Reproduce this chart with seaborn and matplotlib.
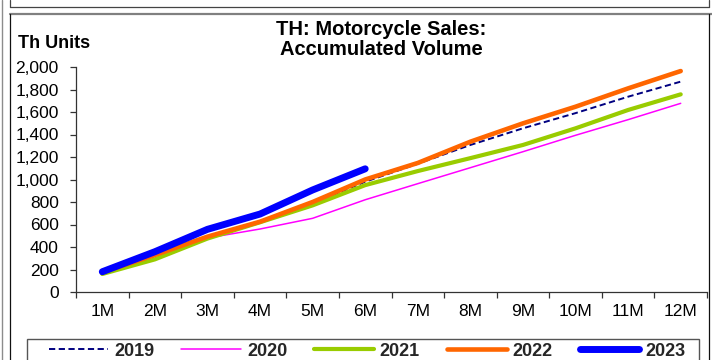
import matplotlib
matplotlib.use("Agg")
import matplotlib.pyplot as plt
from matplotlib.lines import Line2D
from matplotlib.patches import Rectangle
from matplotlib.ticker import FuncFormatter, FixedLocator
import seaborn as sns
import pandas as pd

# Accumulated motorcycle sales (thousand units) by month
months = ["1M", "2M", "3M", "4M", "5M", "6M", "7M", "8M", "9M", "10M", "11M", "12M"]
sales_2019 = [170, 320, 490, 630, 790, 980, 1140, 1307, 1455, 1590, 1736, 1870]
sales_2020 = [165, 290, 480, 560, 655, 820, 963, 1105, 1247, 1393, 1532, 1677]
sales_2021 = [160, 290, 475, 620, 770, 950, 1075, 1190, 1307, 1455, 1618, 1757]
sales_2022 = [175, 329, 492, 625, 800, 1000, 1147, 1336, 1499, 1647, 1810, 1964]
sales_2023 = [180, 358, 557, 693, 907, 1095]

years = ["2019", "2020", "2021", "2022", "2023"]
series = [sales_2019, sales_2020, sales_2021, sales_2022, sales_2023]
colors = ["#000080", "#FF00FF", "#99CC00", "#FF6600", "#0000FF"]
widths = [1.4, 1.1, 3.0, 3.3, 5.0]
styles = [(0, (3.2, 1.8)), "-", "-", "-", "-"]

rows = []
for yr, vals in zip(years, series):
    for i, v in enumerate(vals):
        rows.append({"year": yr, "pos": i, "month": months[i], "value": v})
df = pd.DataFrame(rows)

sns.set_theme(style="white")
plt.rcParams["font.family"] = ["Liberation Sans", "DejaVu Sans"]

W, H = 712, 360
fig = plt.figure(figsize=(W / 100, H / 100), dpi=100)


def fx(px):
    return px / W


def fy(py):
    return 1 - py / H


ax = fig.add_axes([fx(76), fy(292), fx(707) - fx(76), fy(67) - fy(292)])

for yr, c, lw, ls in zip(years, colors, widths, styles):
    sub = df[df["year"] == yr]
    sns.lineplot(data=sub, x="pos", y="value", ax=ax, color=c, linewidth=lw,
                 linestyle=ls, legend=False, solid_capstyle="round",
                 dash_capstyle="butt", estimator=None, sort=False)

ax.set_xlim(-0.5, len(months) - 0.5)
ax.set_ylim(0, 2000)
ax.set_xlabel("")
ax.set_ylabel("")

# category labels centred, tick marks on category boundaries
ax.xaxis.set_major_locator(FixedLocator(range(len(months))))
ax.set_xticklabels(months)
ax.xaxis.set_minor_locator(FixedLocator([i - 0.5 for i in range(len(months) + 1)]))
ax.tick_params(axis="x", which="major", length=0, pad=9, labelsize=12.5, colors="black")
ax.tick_params(axis="x", which="minor", length=4, width=0.9, color="#333333", bottom=True)

ax.set_yticks(range(0, 2001, 200))
ax.yaxis.set_major_formatter(FuncFormatter(lambda v, p: f"{int(v):,}"))
ax.tick_params(axis="y", which="major", length=4.5, width=0.9, color="#333333",
               pad=8, labelsize=12.5, left=True, labelcolor="black")

for s in ["top", "right"]:
    ax.spines[s].set_visible(False)
for s in ["left", "bottom"]:
    ax.spines[s].set_color("#333333")
    ax.spines[s].set_linewidth(0.9)
ax.set_facecolor("white")
ax.grid(False)

# titles
fig.text(fx(381), fy(20), "TH: Motorcycle Sales:\nAccumulated Volume", ha="center",
         va="top", fontsize=14.5, fontweight="bold", linespacing=1.06, color="black")
fig.text(fx(18), fy(43), "Th Units", ha="left", va="center", fontsize=13,
         fontweight="bold", color="black")

# legend
handles = [Line2D([0], [0], color=c, lw=lw, linestyle=ls, solid_capstyle="round")
           for c, lw, ls in zip(colors, widths, styles)]
fig.legend(handles, years, loc="center", bbox_to_anchor=(fx(367), fy(351)), ncol=5,
           frameon=False, prop={"weight": "bold", "size": 13}, handlelength=3.3,
           handletextpad=0.33, columnspacing=1.5, borderpad=0)
fig.patches.append(Rectangle((fx(27), fy(366)), fx(699) - fx(27), fy(339) - fy(366),
                             transform=fig.transFigure, fill=False, edgecolor="#555555",
                             lw=1.0, clip_on=False))

# panel frames
def fline(x0, y0, x1, y1, color, lw):
    fig.add_artist(Line2D([fx(x0), fx(x1)], [fy(y0), fy(y1)], transform=fig.transFigure,
                          color=color, lw=lw))

fline(2, 0, 2, 360, "#8c8c8c", 1.0)
fline(10, 0, 10, 7, "#444444", 0.9)
fline(10, 7, 709, 7, "#444444", 0.9)
fline(709, 0, 709, 7, "#444444", 0.9)
fline(10, 14, 712, 14, "#808080", 1.6)
fline(10, 14, 10, 360, "#111111", 0.9)
fline(709, 14, 709, 360, "#111111", 0.9)

fig.savefig("out.png", dpi=100, facecolor="white")
